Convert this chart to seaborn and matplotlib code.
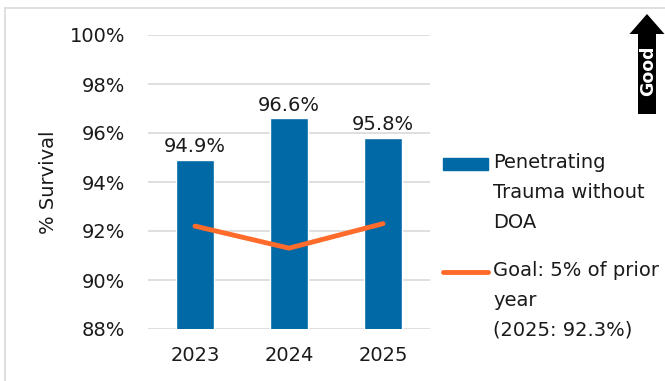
import matplotlib
matplotlib.use("Agg")
import matplotlib.pyplot as plt
import matplotlib.patches as mpatches
from matplotlib.lines import Line2D
import seaborn as sns
import pandas as pd

years = ["2023", "2024", "2025"]
survival = [94.9, 96.6, 95.8]
goal = [92.2, 91.3, 92.3]
yticks = [88, 90, 92, 94, 96, 98, 100]

bar_label = "Penetrating\nTrauma without\nDOA"
goal_label = "Goal: 5% of prior\nyear\n(2025: 92.3%)"

BLUE = "#0069A6"
ORANGE = "#FF6B2B"
TEXT = "#1a1a1a"
FS = 14

sns.set_theme(style="white")
plt.rcParams["font.family"] = ["DejaVu Sans"]

df = pd.DataFrame({"year": years, "survival": survival, "goal": goal})

fig = plt.figure(figsize=(6.65, 3.81), dpi=100)
ax = fig.add_axes([148 / 665, 52 / 381, 282 / 665, 294 / 381])

sns.barplot(data=df, x="year", y="survival", color=BLUE, width=0.4,
            saturation=1, ax=ax, zorder=2)
sns.lineplot(x=list(range(len(years))), y=goal, color=ORANGE, lw=3.5,
             ax=ax, zorder=3, solid_capstyle="round")

ax.set_ylim(88, 100)
ax.set_xlim(-0.5, 2.5)
ax.set_yticks(yticks)
ax.set_yticklabels([f"{t}%" for t in yticks])
ax.yaxis.grid(True, color="#D9D9D9", lw=1.2, zorder=0)
ax.set_axisbelow(True)
for s in ax.spines.values():
    s.set_visible(False)
ax.tick_params(axis="both", length=0, labelsize=FS, colors=TEXT)
ax.tick_params(axis="y", pad=16.5)
ax.tick_params(axis="x", pad=12)
ax.set_xlabel("")
ax.set_ylabel("% Survival", fontsize=FS, color=TEXT, labelpad=8)

for i, v in enumerate(survival):
    ax.text(i, v + 0.15, f"{v:.1f}%", ha="center", va="bottom",
            fontsize=FS, color=TEXT)

# outer frame
fig.patches.append(mpatches.Rectangle((5 / 665, -0.05), 1.0, (381 - 8) / 381 + 0.05,
                                      transform=fig.transFigure, fill=False,
                                      ec="#D9D9D9", lw=1.2))


def fx(px):
    return px / 665


def fy(py):
    return 1 - py / 381


# legend: swatch aligned with the first line of each entry
fig.patches.append(mpatches.Rectangle((fx(443), fy(170)), fx(45), 12 / 381,
                                      transform=fig.transFigure, color=BLUE))
fig.text(fx(493), fy(153), bar_label, fontsize=FS, color=TEXT, va="top",
         ha="left", linespacing=1.72, transform=fig.transFigure)
fig.lines.append(Line2D([fx(443), fx(488)], [fy(272), fy(272)], color=ORANGE,
                        lw=3.5, solid_capstyle="round",
                        transform=fig.transFigure))
fig.text(fx(493), fy(261), goal_label, fontsize=FS, color=TEXT, va="top",
         ha="left", linespacing=1.72, transform=fig.transFigure)

# "Good" arrow
arrow = mpatches.FancyArrow(fx(647), fy(114), 0, (114 - 14) / 381,
                            width=18 / 665, head_width=35 / 665,
                            head_length=20 / 381, length_includes_head=True,
                            transform=fig.transFigure, color="black", lw=0)
fig.patches.append(arrow)
fig.text(fx(648), fy(71), "Good", rotation=90, color="white",
         fontsize=12.5, fontweight="bold", ha="center", va="center")

fig.savefig("out.png", dpi=100)
